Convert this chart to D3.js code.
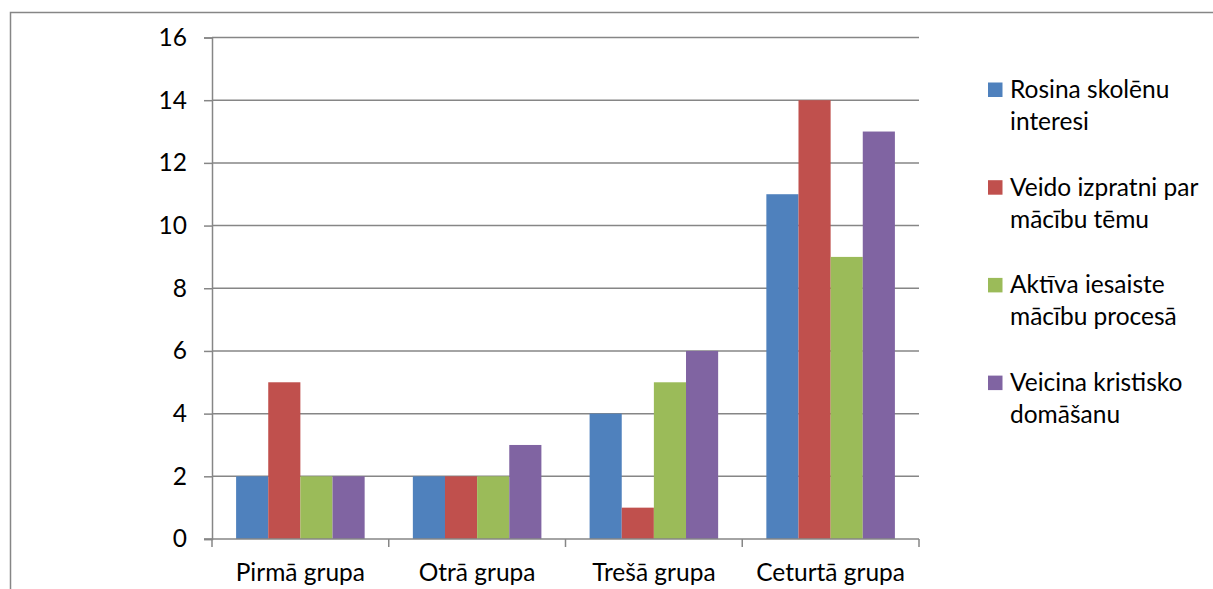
<!DOCTYPE html>
<html><head><meta charset="utf-8">
<script src="https://cdn.jsdelivr.net/npm/d3@7"></script>
<style>body{margin:0;background:#fff}svg{display:block}</style>
</head><body>
<script>
const categories = ["Pirmā grupa", "Otrā grupa", "Trešā grupa", "Ceturtā grupa"];
const seriesNames = [["Rosina skolēnu", "interesi"], ["Veido izpratni par", "mācību tēmu"], ["Aktīva iesaiste", "mācību procesā"], ["Veicina kristisko", "domāšanu"]];
const rosina = [2, 2, 4, 11];
const veido = [5, 2, 1, 14];
const aktiva = [2, 2, 5, 9];
const veicina = [2, 3, 6, 13];
const colors = ["#4F81BD", "#C0504D", "#9BBB59", "#8064A2"];
const yTicks = [0, 2, 4, 6, 8, 10, 12, 14, 16];

(function () {
const series = [rosina, veido, aktiva, veicina];
const W = 1213, H = 589;
const font = "Lato, 'Open Sans', sans-serif";
const fs = 24.5;
const svg = d3.select("body").append("svg").attr("width", W).attr("height", H);

svg.append("rect").attr("x", 10.5).attr("y", 12.5).attr("width", W).attr("height", H)
  .attr("fill", "none").attr("stroke", "#868686").attr("stroke-width", 1.5);

const pLeft = 212, pRight = 919, pTop = 37.5, pBottom = 539;
const x = d3.scaleBand().domain(categories).range([pLeft, pRight]).padding(0);
const y = d3.scaleLinear().domain([0, 16]).range([pBottom, pTop]);
const inner = d3.scaleBand().domain(d3.range(4)).range([0, x.bandwidth()]).paddingInner(0).paddingOuter(0.75);

// gridlines
svg.append("g").selectAll("line").data(yTicks.filter(t => t > 0)).join("line")
  .attr("x1", pLeft).attr("x2", pRight).attr("y1", d => y(d)).attr("y2", d => y(d))
  .attr("stroke", "#868686").attr("stroke-width", 1.5);

// bars
series.forEach((vals, si) => {
  svg.append("g").selectAll("rect").data(vals).join("rect")
    .attr("x", (d, i) => x(categories[i]) + inner(si))
    .attr("y", d => y(d))
    .attr("width", inner.bandwidth())
    .attr("height", d => y(0) - y(d))
    .attr("fill", colors[si]);
});

// y axis
const yAxis = d3.axisLeft(y).tickValues(yTicks).tickSize(8).tickPadding(17).tickFormat(d3.format("d"));
const gy = svg.append("g").attr("transform", `translate(${pLeft},0)`).call(yAxis);
gy.select(".domain").attr("stroke", "#868686").attr("stroke-width", 1.5);
gy.selectAll(".tick line").attr("stroke", "#868686").attr("stroke-width", 1.5);
gy.selectAll("text").attr("font-family", font).attr("font-size", fs).attr("fill", "#000");

// x axis
const xTickPos = d3.range(categories.length + 1).map(i => pLeft + i * x.bandwidth());
svg.append("line").attr("x1", pLeft - 8).attr("x2", pRight).attr("y1", pBottom).attr("y2", pBottom)
  .attr("stroke", "#868686").attr("stroke-width", 1.5);
svg.append("g").selectAll("line").data(xTickPos).join("line")
  .attr("x1", d => d).attr("x2", d => d).attr("y1", pBottom).attr("y2", pBottom + 8)
  .attr("stroke", "#868686").attr("stroke-width", 1.5);
svg.append("g").selectAll("text").data(categories).join("text")
  .attr("x", d => x(d) + x.bandwidth() / 2).attr("y", 581)
  .attr("text-anchor", "middle").attr("font-family", font).attr("font-size", fs)
  .attr("fill", "#000").text(d => d);

// legend
const lg = svg.append("g");
seriesNames.forEach((lines, i) => {
  const by = 98 + i * 97.7;
  lg.append("rect").attr("x", 988).attr("y", by - 15.5).attr("width", 14.5).attr("height", 14.5).attr("fill", colors[i]);
  lines.forEach((t, j) => {
    lg.append("text").attr("x", 1010).attr("y", by + j * 32).attr("font-family", font)
      .attr("font-size", fs).attr("fill", "#000").text(t);
  });
});
})();
</script>
</body></html>
